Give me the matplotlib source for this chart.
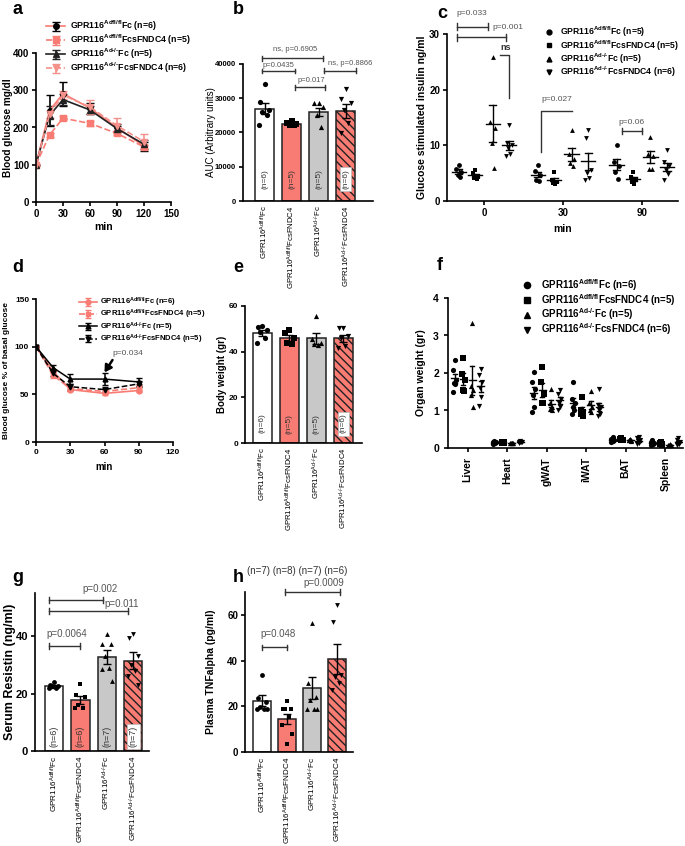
import numpy as np
import matplotlib
matplotlib.use("Agg")
import matplotlib.pyplot as plt
from matplotlib.lines import Line2D

plt.rcParams['font.family'] = ['Liberation Sans', 'DejaVu Sans']
plt.rcParams['font.weight'] = 'bold'
plt.rcParams['axes.labelweight'] = 'bold'
plt.rcParams['mathtext.default'] = 'regular'
plt.rcParams['axes.linewidth'] = 1.2
plt.rcParams['xtick.major.width'] = 1.2
plt.rcParams['ytick.major.width'] = 1.2
plt.rcParams['xtick.major.size'] = 3
plt.rcParams['ytick.major.size'] = 3
plt.rcParams['hatch.linewidth'] = 1.0

SALMON = '#F87C74'
LSALMON = '#F5918B'
GRAY = '#C8C8C8'

# group names (U+2010 hyphen so mathtext does not space it like a minus)
labels = [r'GPR116$^{Adfl/fl}$Fc', r'GPR116$^{Adfl/fl}$FcsFNDC4',
          'GPR116$^{Ad\u2010/\u2010}$Fc', 'GPR116$^{Ad\u2010/\u2010}$FcsFNDC4']

# ---- a: GTT
a_time = [0, 15, 30, 60, 90, 120]
a_fl_fc = [100, 245, 291, 252, 200, 150]
a_fl_fc_err = [0, 42, 32, 15, 10, 12]
a_fl_fndc = [100, 180, 225, 211, 184, 148]
a_fl_fndc_err = [0, 5, 5, 6, 5, 6]
a_ko_fc = [100, 232, 275, 247, 197, 155]
a_ko_fc_err = [0, 25, 15, 12, 8, 12]
a_ko_fndc = [100, 235, 287, 255, 205, 162]
a_ko_fndc_err = [0, 10, 10, 20, 20, 20]
a_n = [6, 5, 5, 6]

# ---- b: AUC
b_means = [27000, 22500, 26000, 26300]
b_errs = [1700, 500, 1200, 2000]
b_points = [[34300, 28900, 26500, 26000, 25000, 22300],
            [23300, 22900, 22500, 22200, 22100],
            [28600, 28600, 27500, 25000, 21600],
            [32700, 29800, 28500, 26500, 22700, 19800]]
b_n = [6, 5, 5, 6]

# ---- c: insulin
c_times = ['0', '30', '90']
c_fl_fc = [[6.5, 5.8, 5.2, 4.6, 4.3], [6.4, 5.4, 4.7, 3.7, 3.6], [10.0, 7.0, 6.3, 5.2, 4.0]]
c_fl_fndc = [[5.5, 5.0, 4.4, 4.2, 4.0], [5.2, 3.8, 3.5, 3.3, 3.1], [5.2, 4.3, 3.9, 3.5, 3.0]]
c_ko_fc = [[25.8, 14.2, 13.2, 10.4, 6.0], [12.8, 8.5, 7.5, 6.8, 6.3], [11.5, 8.5, 8.0, 5.8, 5.7]]
c_ko_fndc = [[13.7, 10.5, 10.0, 9.5, 8.5, 8.0], [12.8, 11.3, 5.6, 5.0, 4.2, 3.8],
             [9.1, 7.0, 6.3, 5.5, 4.8, 3.7]]
c_n = [5, 5, 5, 6]

# ---- d: ITT
d_time = [0, 15, 30, 60, 90]
d_fl_fc = [100, 74, 55, 51, 54]
d_fl_fc_err = [0, 2, 2, 2, 2]
d_fl_fndc = [100, 70, 56, 53, 57]
d_fl_fndc_err = [0, 3, 2, 3, 3]
d_ko_fc = [100, 78, 66, 66, 63]
d_ko_fc_err = [0, 3, 5, 6, 4]
d_ko_fndc = [100, 72, 58, 55, 61]
d_ko_fndc_err = [0, 3, 3, 3, 3]
d_n = [6, 5, 5, 5]

# ---- e: body weight
e_means = [48.0, 45.8, 45.8, 45.8]
e_errs = [1.3, 1.3, 2.5, 1.5]
e_points = [[51.2, 51.0, 49.5, 48.5, 46.0, 44.0],
            [49.5, 48.0, 46.0, 44.0, 43.5],
            [55.6, 45.5, 44.0, 43.5, 43.0],
            [50.5, 50.5, 47.0, 46.0, 42.5, 41.5]]
e_n = [6, 5, 5, 6]

# ---- f: organ weight
organs = ['Liver', 'Heart', 'gWAT', 'iWAT', 'BAT', 'Spleen']
f_fl_fc = [[2.35, 2.07, 1.8, 1.72, 1.7, 1.48], [0.18, 0.17, 0.15, 0.13, 0.12, 0.1],
           [2.02, 1.75, 1.58, 1.4, 1.1, 0.95], [1.77, 1.3, 1.2, 1.1, 1.0, 0.9],
           [0.28, 0.25, 0.22, 0.2, 0.18, 0.17], [0.2, 0.15, 0.12, 0.1, 0.1, 0.08]]
f_fl_fndc = [[2.4, 1.98, 1.8, 1.55, 1.52], [0.16, 0.15, 0.15, 0.14, 0.14],
             [2.17, 1.75, 1.45, 1.2, 1.2], [1.35, 1.0, 0.95, 0.9, 0.85],
             [0.26, 0.24, 0.22, 0.2, 0.2], [0.15, 0.12, 0.1, 0.1, 0.08]]
f_ko_fc = [[3.33, 1.65, 1.55, 1.4, 1.1], [0.14, 0.13, 0.13, 0.12, 0.12],
           [1.58, 1.2, 1.1, 1.05, 1.0], [1.52, 1.2, 1.1, 1.0, 0.95],
           [0.25, 0.22, 0.2, 0.2, 0.18], [0.1, 0.09, 0.08, 0.08, 0.07]]
f_ko_fndc = [[2.1, 1.95, 1.75, 1.6, 1.35, 1.12], [0.18, 0.17, 0.16, 0.15, 0.15, 0.14],
             [1.55, 1.45, 1.3, 1.2, 1.1, 1.0], [1.57, 1.15, 1.1, 1.0, 0.9, 0.85],
             [0.3, 0.27, 0.22, 0.18, 0.12, 0.1], [0.27, 0.2, 0.15, 0.12, 0.1, 0.08]]
f_n = [6, 5, 5, 6]

# ---- g: resistin
g_means = [22.5, 17.8, 32.7, 31.5]
g_errs = [0.5, 1.5, 2.5, 3.0]
g_points = [[24.0, 23.0, 22.8, 22.5, 22.0, 21.8],
            [23.3, 19.5, 18.8, 16.0, 14.8, 14.8],
            [40.7, 37.2, 37.2, 33.0, 29.0, 28.5, 24.3],
            [40.9, 39.5, 33.0, 30.0, 28.0, 26.0, 22.9]]
g_n = [6, 6, 7, 7]

# ---- h: TNFalpha
h_means = [22.5, 14.5, 28.0, 40.8]
h_errs = [2.5, 2.3, 5.0, 6.5]
h_points = [[33.7, 23.5, 22.0, 19.5, 18.6, 18.6, 18.6],
            [22.4, 18.6, 18.6, 18.6, 15.4, 12.0, 8.0, 3.7],
            [56.4, 30.0, 24.0, 22.7, 18.6, 18.6, 18.6],
            [64.1, 56.8, 33.7, 33.0, 30.0, 27.0]]
h_n = [7, 8, 7, 6]

W, H = 685, 846
fig = plt.figure(figsize=(W / 100, H / 100), dpi=100)


def add_ax(l, t, r, b):
    ax = fig.add_axes([l / W, 1 - b / H, (r - l) / W, (b - t) / H])
    ax.spines['top'].set_visible(False)
    ax.spines['right'].set_visible(False)
    ax.patch.set_alpha(0)
    return ax


def fx(x):
    return x / W


def fy(y):
    return 1 - y / H


def bracket(ax, x1, x2, y, cap, txt, tx, ty, fs=6):
    ax.plot([x1, x2], [y, y], color='#333333', lw=1, clip_on=False)
    for xx in (x1, x2):
        ax.plot([xx, xx], [y - cap, y + cap], color='#333333', lw=1, clip_on=False)
    ax.text(tx, ty, txt, ha='center', va='center', fontsize=fs, color='#555555',
            fontweight='normal', clip_on=False)


OFFS = [0.0, -0.17, 0.17, -0.08, 0.08, -0.2, 0.2, 0.0]
MK = ['o', 's', '^', 'v']


def bar_panel(ax, means, errs, points, ns, ny, msize, nfs, tfs):
    cols = ['white', SALMON, GRAY, SALMON]
    for i in range(4):
        ax.bar(i, means[i], width=0.7, color=cols[i], edgecolor='#222222', linewidth=1.1,
               hatch='\\\\\\\\' if i == 3 else None, zorder=2)
        ax.errorbar(i, means[i], yerr=errs[i], color='black', capsize=3, lw=1, capthick=1, zorder=4)
        pts = points[i]
        xs = [i + OFFS[k % len(OFFS)] for k in range(len(pts))]
        ax.scatter(xs, pts, marker=MK[i], s=msize, color='black', zorder=5, linewidths=0)
        kw = dict(rotation=90, ha='center', va='center', fontsize=nfs, fontweight='normal',
                  color='#333333', zorder=6)
        if i == 3:
            kw['bbox'] = dict(facecolor='white', edgecolor='#bbbbbb', pad=1.5, lw=0.5)
        ax.text(i, ny, '(n=%d)' % ns[i], **kw)
    ax.set_xticks(range(4))
    ax.set_xticklabels(labels, rotation=90, fontsize=tfs, fontweight='normal')
    ax.tick_params(axis='x', length=0, pad=3)


def scatter_groups(ax, groups, centers, subofs, msize, mean_w=0.09, cap_w=0.05):
    for s, data in enumerate(groups):
        for g, vals in enumerate(data):
            cx = centers[g] + subofs[s]
            xs = [cx + 0.45 * OFFS[k % len(OFFS)] * (subofs[1] - subofs[0]) * 2 for k in range(len(vals))]
            ax.scatter(xs, vals, marker=MK[s], s=msize, color='black', linewidths=0, zorder=3)
            m = np.mean(vals)
            se = np.std(vals, ddof=1) / np.sqrt(len(vals))
            ax.plot([cx - mean_w, cx + mean_w], [m, m], color='black', lw=1, zorder=4)
            ax.plot([cx, cx], [m - se, m + se], color='black', lw=1, zorder=4)
            for yy in (m - se, m + se):
                ax.plot([cx - cap_w, cx + cap_w], [yy, yy], color='black', lw=1, zorder=4)


# ================= a
ax = add_ax(36, 53, 171, 202)
ax.errorbar(a_time, a_fl_fc, yerr=a_fl_fc_err, color=SALMON, ls='-', marker='o', mfc='black',
            mec='black', ms=4, lw=1.2, capsize=3, ecolor='black', label=labels[0] + ' (n=%d)' % a_n[0])
ax.errorbar(a_time, a_fl_fndc, yerr=a_fl_fndc_err, color=SALMON, ls='--', marker='s', ms=4,
            lw=1.2, capsize=3, label=labels[1] + ' (n=%d)' % a_n[1])
ax.errorbar(a_time, a_ko_fc, yerr=a_ko_fc_err, color='#222222', ls='-', marker='^', ms=4,
            lw=1.2, capsize=3, label=labels[2] + ' (n=%d)' % a_n[2])
ax.errorbar(a_time, a_ko_fndc, yerr=a_ko_fndc_err, color=LSALMON, ls='--', marker='v', ms=4,
            lw=1.2, capsize=3, label=labels[3] + ' (n=%d)' % a_n[3])
ax.set_xlim(0, 150)
ax.set_ylim(0, 400)
ax.set_xticks([0, 30, 60, 90, 120, 150])
ax.set_yticks([0, 100, 200, 300, 400])
ax.tick_params(labelsize=7, pad=2)
ax.set_xlabel('min', fontsize=7.5, labelpad=2)
ax.set_ylabel('Blood glucose mg/dl', fontsize=7.2)
ax.yaxis.set_label_coords(-0.17, 0.5)
h_, l_ = ax.get_legend_handles_labels()
ax.legend(h_, l_, loc='upper left', bbox_to_anchor=(fx(46), fy(19)), bbox_transform=fig.transFigure,
          frameon=False, fontsize=6.3, handlelength=2.2, labelspacing=-0.05, borderpad=0, borderaxespad=0,
          handletextpad=0.5)

# ================= b
ax = add_ax(243, 64, 373, 201)
bar_panel(ax, b_means, b_errs, b_points, b_n, 6500, 14, 6, 5.6)
ax.set_xlim(-0.8, 4.0)
ax.set_ylim(0, 40000)
ax.set_yticks([0, 10000, 20000, 30000, 40000])
ax.tick_params(axis='y', labelsize=5.5, pad=2)
ax.set_ylabel('AUC (Arbitrary units)', fontsize=7, fontweight='normal')
ax.yaxis.set_label_coords(-0.208, 0.5)
bracket(ax, -0.08, 2.15, 41700, 700, 'ns, p=0.6905', 1.13, 44300, 5.5)
bracket(ax, -0.08, 1.13, 37950, 700, 'p=0.0435', 0.5, 39600, 5.5)
bracket(ax, 1.13, 2.23, 33200, 700, 'p=0.017', 1.72, 35300, 5.5)
bracket(ax, 2.2, 3.38, 38000, 700, 'ns, p=0.8866', 3.15, 40200, 5.5)

# ================= c
ax = add_ax(447, 34, 678, 201)
scatter_groups(ax, [c_fl_fc, c_fl_fndc, c_ko_fc, c_ko_fndc], [0, 1, 2], [-0.32, -0.11, 0.11, 0.32], 12,
               mean_w=0.09, cap_w=0.045)
ax.set_xlim(-0.47, 2.46)
ax.set_ylim(0, 30)
ax.set_xticks([0, 1, 2])
ax.set_xticklabels(c_times)
ax.set_yticks([0, 10, 20, 30])
ax.tick_params(labelsize=7, pad=2)
ax.set_xlabel('min', fontsize=7.5, labelpad=4)
ax.set_ylabel('Glucose stimulated insulin ng/ml', fontsize=7.5)
ax.yaxis.set_label_coords(-0.088, 0.5)
bracket(ax, -0.34, 0.05, 31.3, 0.6, 'p=0.033', -0.15, 33.6, 6)
bracket(ax, -0.34, 0.28, 29.4, 0.6, 'p=0.001', 0.30, 31.1, 6)
ax.plot([0.2, 0.32, 0.32], [26.3, 26.3, 18.5], color='#333333', lw=1, clip_on=False)
ax.text(0.27, 27.6, 'ns', ha='center', va='center', fontsize=6.5, color='#333333')
ax.plot([0.72, 0.72, 1.11], [8.8, 16.2, 16.2], color='#333333', lw=1)
ax.text(0.92, 18.2, 'p=0.027', ha='center', va='center', fontsize=6, color='#555555', fontweight='normal')
bracket(ax, 1.75, 2.0, 12.6, 0.6, 'p=0.06', 1.87, 14.1, 6)
hc = [Line2D([], [], ls='none', marker=MK[i], color='black', ms=3.5) for i in range(4)]
ax.legend(hc, [labels[i] + ' (n=%d)' % c_n[i] for i in range(4)], loc='upper left',
          bbox_to_anchor=(fx(545), fy(25)), bbox_transform=fig.transFigure, frameon=False, fontsize=6.2,
          handlelength=1.0, labelspacing=-0.15, borderpad=0, borderaxespad=0, handletextpad=0.8)

# ================= d
ax = add_ax(36, 299, 173, 442)
ax.errorbar(d_time, d_fl_fc, yerr=d_fl_fc_err, color=SALMON, ls='-', marker='o', ms=3.5, lw=1.2, capsize=2.5,
            label=labels[0] + ' (n=%d)' % d_n[0])
ax.errorbar(d_time, d_fl_fndc, yerr=d_fl_fndc_err, color=SALMON, ls='--', marker='s', ms=3.5, lw=1.2,
            capsize=2.5, label=labels[1] + ' (n=%d)' % d_n[1])
ax.errorbar(d_time, d_ko_fc, yerr=d_ko_fc_err, color='black', ls='-', marker='^', ms=3.5, lw=1.1, capsize=2.5,
            label=labels[2] + ' (n=%d)' % d_n[2])
ax.errorbar(d_time, d_ko_fndc, yerr=d_ko_fndc_err, color='black', ls='--', marker='v', ms=3.5, lw=1.1,
            capsize=2.5, label=labels[3] + ' (n=%d)' % d_n[3])
ax.set_xlim(0, 120)
ax.set_ylim(0, 150)
ax.set_xticks([0, 30, 60, 90, 120])
ax.set_yticks([0, 50, 100, 150])
ax.tick_params(labelsize=6, pad=2)
ax.set_xlabel('min', fontsize=7, labelpad=4)
ax.set_ylabel('Blood glucose % of basal glucose', fontsize=6.0)
ax.yaxis.set_label_coords(-0.193, 0.5)
ax.text(67, 92.5, 'p=0.034', ha='left', va='center', fontsize=6, color='#555555', fontweight='normal')
ax.annotate('', xy=(60, 73), xytext=(67, 86),
            arrowprops=dict(arrowstyle='-|>,head_width=0.3,head_length=0.5', color='black', lw=1.8,
                            shrinkA=0, shrinkB=0, mutation_scale=8))
h_, l_ = ax.get_legend_handles_labels()
ax.legend(h_, l_, loc='upper left', bbox_to_anchor=(fx(79), fy(296)), bbox_transform=fig.transFigure,
          frameon=False, fontsize=5.5, handlelength=2.3, labelspacing=-0.15, borderpad=0, borderaxespad=0,
          handletextpad=0.5)

# ================= e
ax = add_ax(245, 306, 362, 443)
bar_panel(ax, e_means, e_errs, e_points, e_n, 8.5, 14, 6, 5.6)
ax.set_xlim(-0.65, 3.7)
ax.set_ylim(0, 60)
ax.set_yticks([0, 20, 40, 60])
ax.tick_params(axis='y', labelsize=6, pad=2)
ax.set_ylabel('Body weight (gr)', fontsize=7)
ax.yaxis.set_label_coords(-0.154, 0.5)

# ================= f
ax = add_ax(448, 298, 683, 448)
scatter_groups(ax, [f_fl_fc, f_fl_fndc, f_ko_fc, f_ko_fndc], list(range(6)), [-0.33, -0.11, 0.11, 0.33], 14,
               mean_w=0.09, cap_w=0.05)
ax.set_xlim(-0.5, 5.45)
ax.set_ylim(0, 4)
ax.set_yticks([0, 1, 2, 3, 4])
ax.set_xticks(range(6))
ax.set_xticklabels(organs, rotation=90)
ax.tick_params(labelsize=7.5)
ax.set_ylabel('Organ weight (gr)', fontsize=7.5)
ax.yaxis.set_label_coords(-0.094, 0.5)
hf = [Line2D([], [], ls='none', marker=MK[i], color='black', ms=4.5) for i in range(4)]
ax.legend(hf, [labels[i] + ' (n=%d)' % f_n[i] for i in range(4)], loc='upper left',
          bbox_to_anchor=(fx(522), fy(277)), bbox_transform=fig.transFigure, frameon=False, fontsize=7,
          handlelength=1.0, labelspacing=-0.1, borderpad=0, borderaxespad=0, handletextpad=1.0)

# ================= g
ax = add_ax(35, 593, 149, 751)
bar_panel(ax, g_means, g_errs, g_points, g_n, 5, 12, 6.5, 5.9)
ax.set_xlim(-0.72, 3.6)
ax.set_ylim(0, 55)
ax.set_yticks([0, 20, 40])
ax.tick_params(axis='y', labelsize=8, pad=2)
ax.set_ylabel('Serum Resistin (ng/ml)', fontsize=9)
ax.yaxis.set_label_coords(-0.167, 0.5)
bracket(ax, -0.19, 1.0, 36.6, 1.0, 'p=0.0064', 0.48, 40.7, 7)
bracket(ax, -0.19, 1.86, 52.6, 1.0, 'p=0.002', 1.75, 56.4, 7)
bracket(ax, -0.19, 2.81, 48.7, 1.0, 'p=0.011', 2.57, 51.2, 7)

# ================= h
ax = add_ax(245, 592, 353, 752)
bar_panel(ax, h_means, h_errs, h_points, h_n, 6, 12, 6.5, 5.9)
for t in ax.texts:
    t.set_visible(False)
ax.set_xlim(-0.68, 3.64)
ax.set_ylim(0, 70)
ax.set_yticks([0, 20, 40, 60])
ax.tick_params(axis='y', labelsize=7, pad=2)
ax.set_ylabel('Plasma TNFalpha (pg/ml)', fontsize=7.5)
ax.yaxis.set_label_coords(-0.27, 0.5)
bracket(ax, 0.0, 0.99, 45.8, 1.2, 'p=0.048', 0.63, 51.7, 7)
bracket(ax, 0.92, 3.12, 70.0, 1.2, 'p=0.0009', 2.48, 73.9, 7)
ax.text(1.39, 79.4, ' '.join('(n=%d)' % n for n in h_n), ha='center', va='center', fontsize=7,
        color='#333333', fontweight='normal', clip_on=False)

# panel letters
for letter, x, y in [('a', 12, 10), ('b', 233, 10), ('c', 437, 14), ('d', 12, 268), ('e', 233, 268),
                     ('f', 437, 266), ('g', 12, 578), ('h', 233, 578)]:
    fig.text(fx(x), fy(y), letter, fontsize=13, fontweight='bold', ha='left', va='center')

fig.savefig('out.png', dpi=100)
